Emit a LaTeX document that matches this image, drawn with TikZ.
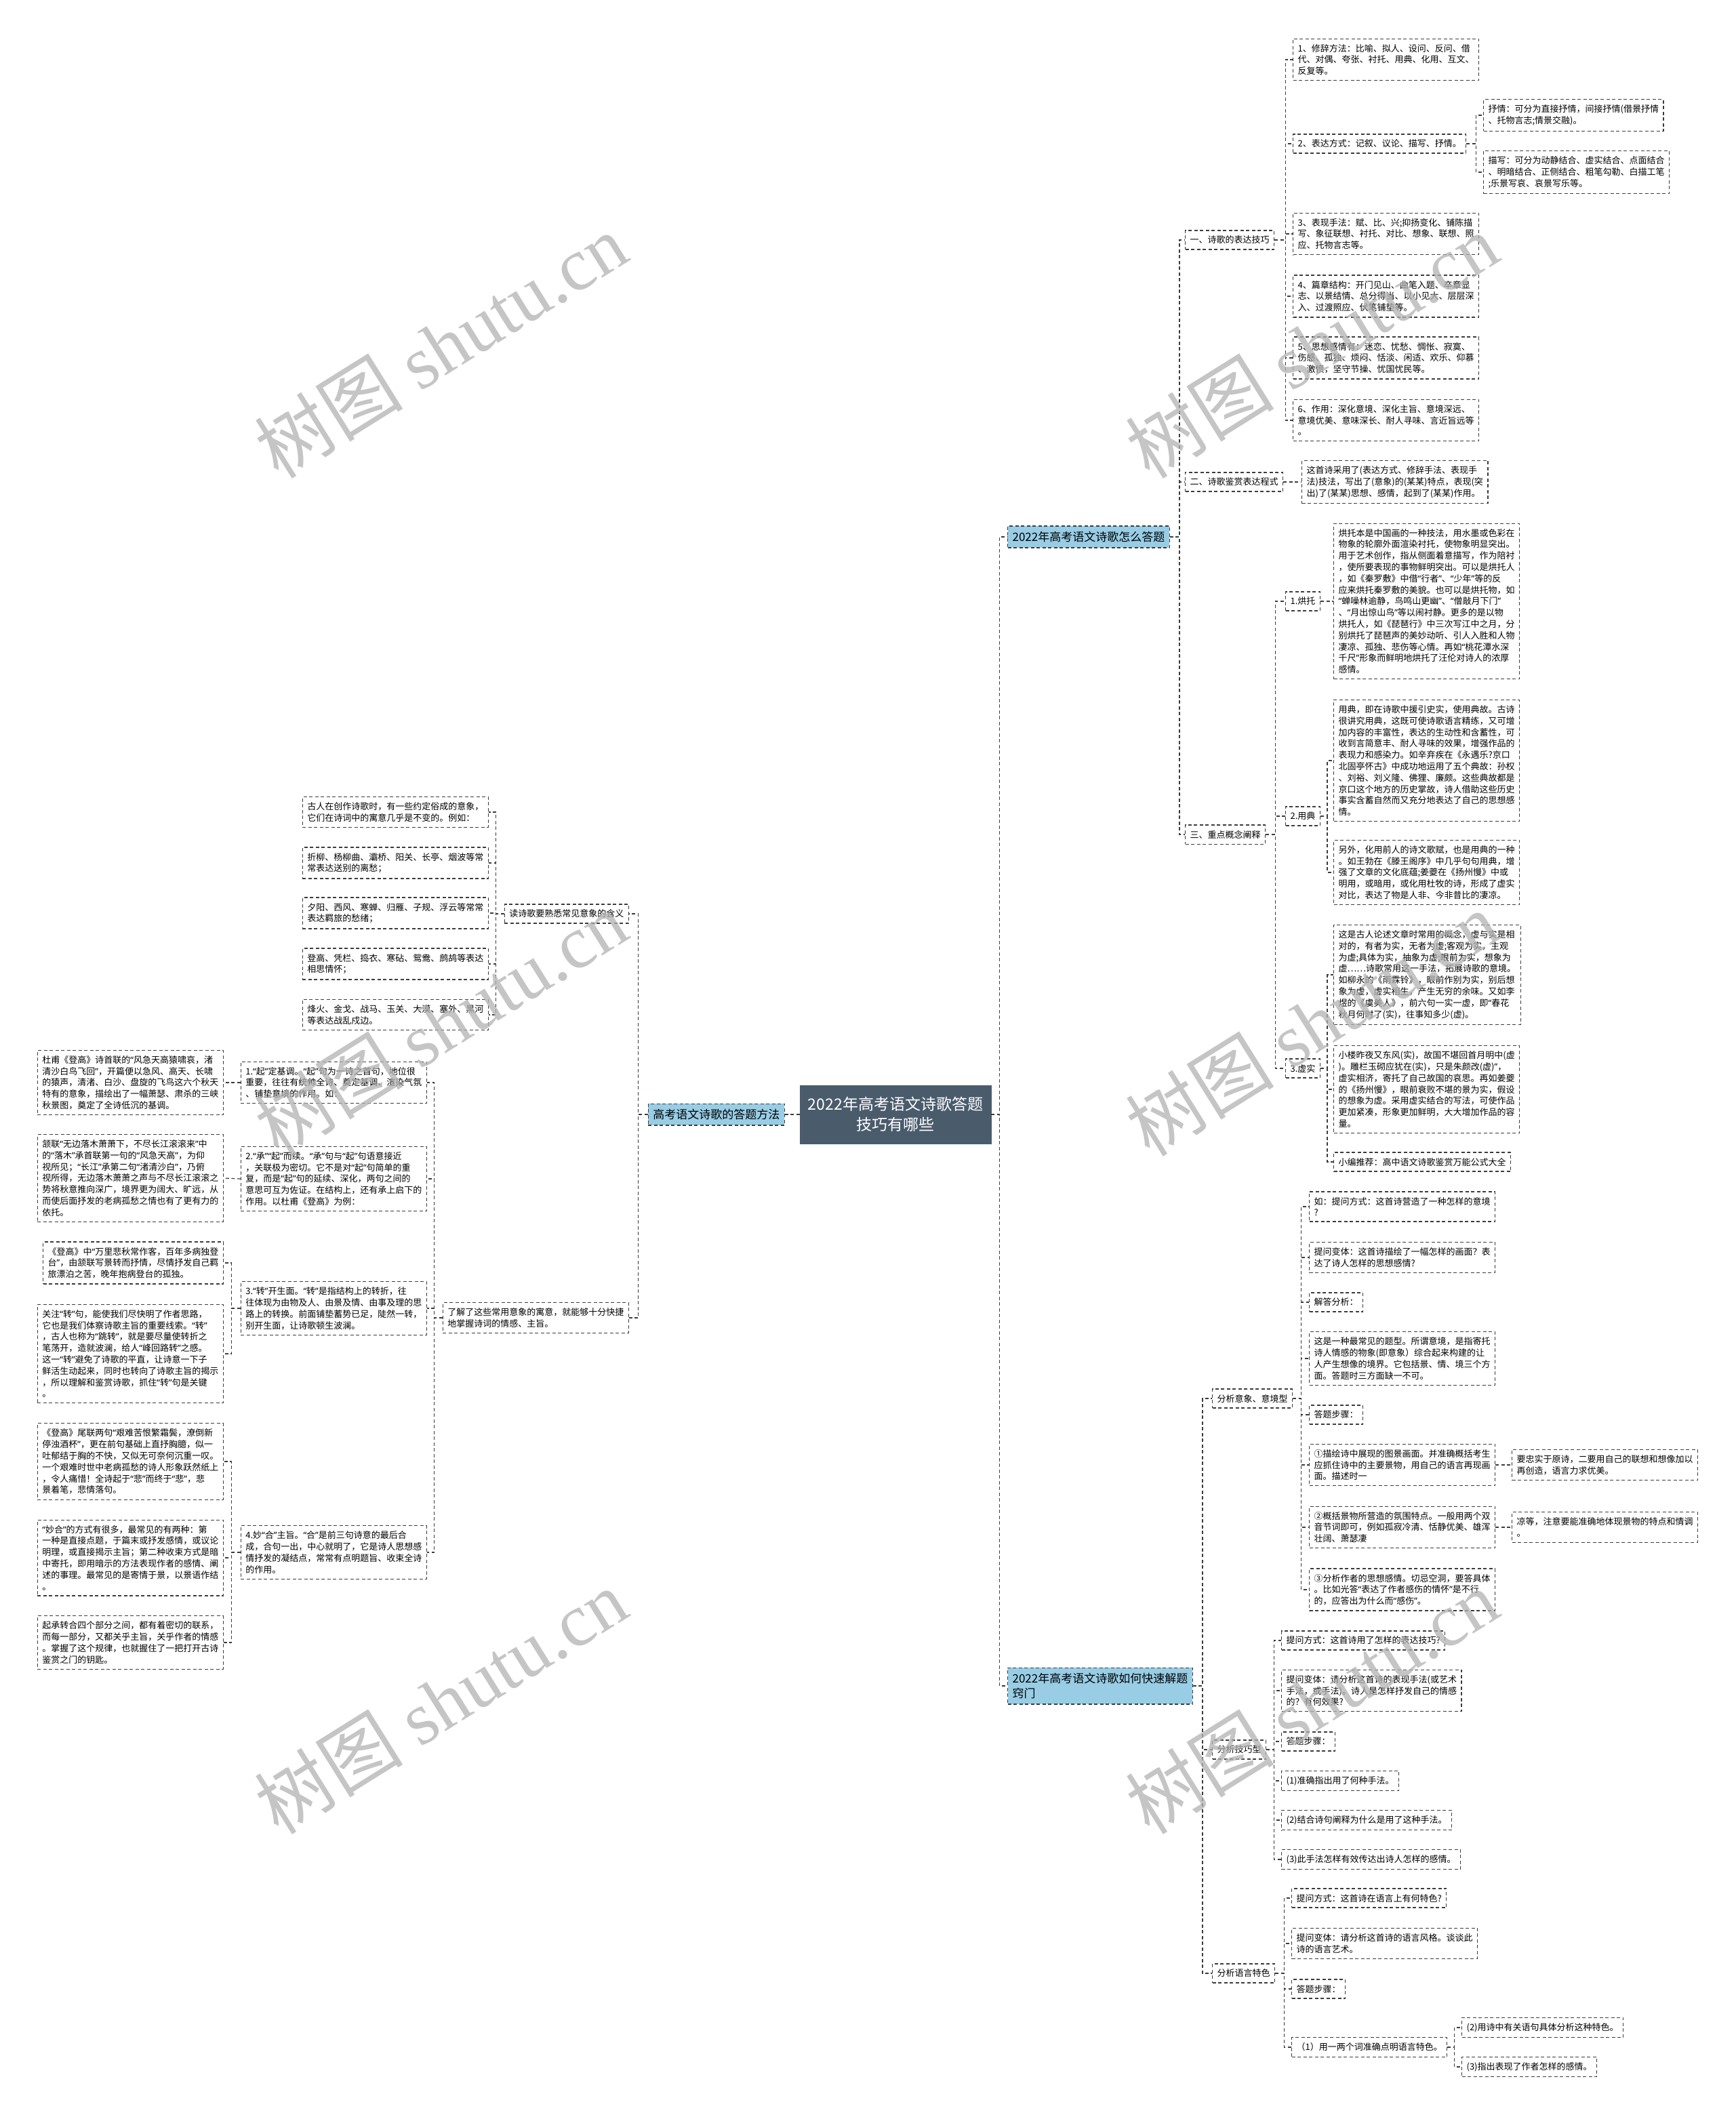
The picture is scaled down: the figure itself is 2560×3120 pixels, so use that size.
\documentclass[tikz,border=0pt]{standalone}
\usepackage{fontspec}
\setmainfont{Noto Sans CJK SC}
\newfontfamily\markfont{Liberation Serif}
\newfontfamily\quotefont{Noto Sans}
\usepackage{tikz}
\definecolor{rootslate}{RGB}{74,91,108}
\definecolor{branchblue}{RGB}{152,205,229}
\definecolor{edgegray}{RGB}{60,60,60}
\newcommand\leaffont{\fontsize{13}{16.8}\selectfont}
\newcommand\branchfont{\fontsize{17}{22}\selectfont}
\newcommand\rootfont{\fontsize{23}{30}\selectfont}
% narrow curly quotes, as the picture prints them
\catcode`“=\active \def“{{\quotefont\char"201C}}
\catcode`”=\active \def”{{\quotefont\char"201D}}
\tikzset{
  leaf/.style={rectangle, draw=edgegray, line width=1.2pt,
              dash pattern=on 5pt off 3.5pt, fill=white, align=left,
              font=\leaffont, inner xsep=7pt, inner ysep=8pt, anchor=#1},
  leaf/.default=west,
  branch/.style={leaf=#1, fill=branchblue, font=\branchfont},
  branch/.default=west,
  rootbox/.style={rectangle, draw=rootslate, fill=rootslate, text=white,
              align=center, font=\rootfont, minimum width=282pt,
              minimum height=86pt},
  link/.style={draw=edgegray, line width=1.2pt, dash pattern=on 5pt off 3.5pt},
  watermark/.style={font=\fontsize{110}{110}\selectfont, text=black!30,
              text opacity=0.75, rotate=32},
}
\begin{document}
\begin{tikzpicture}[x=1pt, y=-1pt]
  % canvas
  \fill[white] (0,0) rectangle (2560,3120);
  % root and branches
  \node[rootbox] (root) at (1321,1644) {2022年高考语文诗歌答题\\技巧有哪些};
  \node[branch] (ans) at (1486,792) {2022年高考语文诗歌怎么答题};
  \node[branch=east] (way) at (1158,1644) {高考语文诗歌的答题方法};
  \node[branch] (key) at (1486,2487) {2022年高考语文诗歌如何快速解题\\窍门};
  \draw[link] (root.west) -- (way.east);
  \foreach \b in {ans,key}
    \draw[link] (root.east) -- ++(12,0) |- (\b.west);

  % ---- right top: 怎么答题
  \node[leaf] (skill) at (1748,354) {一、诗歌的表达技巧};
  \node[leaf] (form) at (1748,711) {二、诗歌鉴赏表达程式};
  \node[leaf] (term) at (1748,1231) {三、重点概念阐释};
  \foreach \c in {skill,form,term}
    \draw[link] (ans.east) -- ++(14,0) |- (\c.west);

  \node[leaf] (sk1) at (1907,88) {1、修辞方法：比喻、拟人、设问、反问、借\\代、对偶、夸张、衬托、用典、化用、互文、\\反复等。};
  \node[leaf] (sk2) at (1907,212) {2、表达方式：记叙、议论、描写、抒情。};
  \node[leaf] (sk3) at (1907,345) {3、表现手法：赋、比、兴;抑扬变化、铺陈描\\写、象征联想、衬托、对比、想象、联想、照\\应、托物言志等。};
  \node[leaf] (sk4) at (1907,437) {4、篇章结构：开门见山、曲笔入题、卒章显\\志、以景结情、总分得当、以小见大、层层深\\入、过渡照应、伏笔铺垫等。};
  \node[leaf] (sk5) at (1907,528) {5、思想感情有：迷恋、忧愁、惆怅、寂寞、\\伤感、孤独、烦闷、恬淡、闲适、欢乐、仰慕\\、激愤，坚守节操、忧国忧民等。};
  \node[leaf] (sk6) at (1907,620) {6、作用：深化意境、深化主旨、意境深远、\\意境优美、意味深长、耐人寻味、言近旨远等\\。};
  \foreach \i in {1,...,6}
    \draw[link] (skill.east) -- ++(16,0) |- (sk\i.west);
  \node[leaf] (sk2a) at (2188,170) {抒情：可分为直接抒情，间接抒情(借景抒情\\、托物言志;情景交融)。};
  \node[leaf] (sk2b) at (2188,254) {描写：可分为动静结合、虚实结合、点面结合\\、明暗结合、正侧结合、粗笔勾勒、白描工笔\\;乐景写哀、哀景写乐等。};
  \foreach \c in {sk2a,sk2b}
    \draw[link] (sk2.east) -- ++(14,0) |- (\c.west);

  \node[leaf] (formtxt) at (1920,711) {这首诗采用了(表达方式、修辞手法、表现手\\法)技法，写出了(意象)的(某某)特点，表现(突\\出)了(某某)思想、感情，起到了(某某)作用。};
  \draw[link] (form.east) -- (formtxt.west);

  \node[leaf] (hong) at (1896,887) {1.烘托};
  \node[leaf] (dian) at (1896,1204) {2.用典};
  \node[leaf] (xu) at (1896,1576) {3.虚实};
  \foreach \c in {hong,dian,xu}
    \draw[link] (term.east) -- ++(14,0) |- (\c.west);
  \node[leaf] (hongtxt) at (1967,887) {烘托本是中国画的一种技法，用水墨或色彩在\\物象的轮廓外面渲染衬托，使物象明显突出。\\用于艺术创作，指从侧面着意描写，作为陪衬\\，使所要表现的事物鲜明突出。可以是烘托人\\，如《秦罗敷》中借“行者”、“少年”等的反\\应来烘托秦罗敷的美貌。也可以是烘托物，如\\“蝉噪林逾静，鸟鸣山更幽”、“僧敲月下门”\\、“月出惊山鸟”等以闹衬静。更多的是以物\\烘托人，如《琵琶行》中三次写江中之月，分\\别烘托了琵琶声的美妙动听、引人入胜和人物\\凄凉、孤独、悲伤等心情。再如“桃花潭水深\\千尺”形象而鲜明地烘托了汪伦对诗人的浓厚\\感情。};
  \draw[link] (hong.east) -- (hongtxt.west);
  \node[leaf] (dian1) at (1967,1122) {用典，即在诗歌中援引史实，使用典故。古诗\\很讲究用典，这既可使诗歌语言精练，又可增\\加内容的丰富性，表达的生动性和含蓄性，可\\收到言简意丰、耐人寻味的效果，增强作品的\\表现力和感染力。如辛弃疾在《永遇乐?京口\\北固亭怀古》中成功地运用了五个典故：孙权\\、刘裕、刘义隆、佛狸、廉颇。这些典故都是\\京口这个地方的历史掌故，诗人借助这些历史\\事实含蓄自然而又充分地表达了自己的思想感\\情。};
  \node[leaf] (dian2) at (1967,1287) {另外，化用前人的诗文歌赋，也是用典的一种\\。如王勃在《滕王阁序》中几乎句句用典，增\\强了文章的文化底蕴;姜夔在《扬州慢》中或\\明用，或暗用，或化用杜牧的诗，形成了虚实\\对比，表达了物是人非、今非昔比的凄凉。};
  \foreach \c in {dian1,dian2}
    \draw[link] (dian.east) -- ++(10,0) |- (\c.west);
  \node[leaf] (xu1) at (1967,1438) {这是古人论述文章时常用的概念，虚与实是相\\对的，有者为实，无者为虚;客观为实，主观\\为虚;具体为实，抽象为虚;眼前为实，想象为\\虚……诗歌常用这一手法，拓展诗歌的意境。\\如柳永的《雨霖铃》，眼前作别为实，别后想\\象为虚，虚实相生，产生无穷的余味。又如李\\煜的《虞美人》，前六句一实一虚，即“春花\\秋月何时了(实)，往事知多少(虚)。};
  \node[leaf] (xu2) at (1967,1607) {小楼昨夜又东风(实)，故国不堪回首月明中(虚\\)。雕栏玉砌应犹在(实)，只是朱颜改(虚)”，\\虚实相济，寄托了自己故国的哀思。再如姜夔\\的《扬州慢》，眼前衰败不堪的景为实，假设\\的想象为虚。采用虚实结合的写法，可使作品\\更加紧凑，形象更加鲜明，大大增加作品的容\\量。};
  \node[leaf] (xu3) at (1967,1714) {小编推荐：高中语文诗歌鉴赏万能公式大全};
  \foreach \c in {xu1,xu2,xu3}
    \draw[link] (xu.east) -- ++(10,0) |- (\c.west);

  % ---- right bottom: 快速解题窍门
  \node[leaf] (img) at (1788,2063) {分析意象、意境型};
  \node[leaf] (tech) at (1788,2581) {分析技巧型};
  \node[leaf] (lang) at (1788,2911) {分析语言特色};
  \foreach \c in {img,tech,lang}
    \draw[link] (key.east) -- ++(14,0) |- (\c.west);

  \node[leaf] (img1) at (1931,1780) {如：提问方式：这首诗营造了一种怎样的意境\\?};
  \node[leaf] (img2) at (1931,1855) {提问变体：这首诗描绘了一幅怎样的画面？表\\达了诗人怎样的思想感情?};
  \node[leaf] (img3) at (1931,1921) {解答分析：};
  \node[leaf] (img4) at (1931,2004) {这是一种最常见的题型。所谓意境，是指寄托\\诗人情感的物象(即意象）综合起来构建的让\\人产生想像的境界。它包括景、情、境三个方\\面。答题时三方面缺一不可。};
  \node[leaf] (img5) at (1931,2087) {答题步骤：};
  \node[leaf] (img6) at (1931,2161) {①描绘诗中展现的图景画面。并准确概括考生\\应抓住诗中的主要景物，用自己的语言再现画\\面。描述时一};
  \node[leaf] (img7) at (1931,2253) {②概括景物所营造的氛围特点。一般用两个双\\音节词即可，例如孤寂冷清、恬静优美、雄浑\\壮阔、萧瑟凄};
  \node[leaf] (img8) at (1931,2345) {③分析作者的思想感情。切忌空洞，要答具体\\。比如光答“表达了作者感伤的情怀”是不行\\的，应答出为什么而“感伤”。};
  \foreach \i in {1,...,8}
    \draw[link] (img.east) -- ++(12,0) |- (img\i.west);
  \node[leaf] (img6a) at (2230,2161) {要忠实于原诗，二要用自己的联想和想像加以\\再创造，语言力求优美。};
  \node[leaf] (img7a) at (2230,2253) {凉等，注意要能准确地体现景物的特点和情调\\。};
  \draw[link] (img6.east) -- (img6a.west);
  \draw[link] (img7.east) -- (img7a.west);

  \node[leaf] (tech1) at (1890,2420) {提问方式：这首诗用了怎样的表达技巧?};
  \node[leaf] (tech2) at (1890,2494) {提问变体：请分析这首诗的表现手法(或艺术\\手法，或手法)。诗人是怎样抒发自己的情感\\的？有何效果?};
  \node[leaf] (tech3) at (1890,2569) {答题步骤：};
  \node[leaf] (tech4) at (1890,2627) {(1)准确指出用了何种手法。};
  \node[leaf] (tech5) at (1890,2685) {(2)结合诗句阐释为什么是用了这种手法。};
  \node[leaf] (tech6) at (1890,2743) {(3)此手法怎样有效传达出诗人怎样的感情。};
  \foreach \i in {1,...,6}
    \draw[link] (tech.east) -- ++(11,0) |- (tech\i.west);

  \node[leaf] (lang1) at (1905,2800) {提问方式：这首诗在语言上有何特色?};
  \node[leaf] (lang2) at (1905,2867) {提问变体：请分析这首诗的语言风格。谈谈此\\诗的语言艺术。};
  \node[leaf] (lang3) at (1905,2934) {答题步骤：};
  \node[leaf] (lang4) at (1905,3020) {（1）用一两个词准确点明语言特色。};
  \foreach \i in {1,...,4}
    \draw[link] (lang.east) -- ++(13,0) |- (lang\i.west);
  \node[leaf] (lang4a) at (2156,2991) {(2)用诗中有关语句具体分析这种特色。};
  \node[leaf] (lang4b) at (2156,3049) {(3)指出表现了作者怎样的感情。};
  \foreach \c in {lang4a,lang4b}
    \draw[link] (lang4.east) -- ++(10,0) |- (\c.west);

  % ---- left: 答题方法
  \node[leaf=east] (read) at (928,1348) {读诗歌要熟悉常见意象的含义};
  \node[leaf=east] (know) at (928,1944) {了解了这些常用意象的寓意，就能够十分快捷\\地掌握诗词的情感、主旨。};
  \foreach \c in {read,know}
    \draw[link] (way.west) -- ++(-14,0) |- (\c.east);

  \node[leaf=east] (read1) at (721,1198) {古人在创作诗歌时，有一些约定俗成的意象，\\它们在诗词中的寓意几乎是不变的。例如：};
  \node[leaf=east] (read2) at (721,1273) {折柳、杨柳曲、灞桥、阳关、长亭、烟波等常\\常表达送别的离愁；};
  \node[leaf=east] (read3) at (721,1347) {夕阳、西风、寒蝉、归雁、子规、浮云等常常\\表达羁旅的愁绪；};
  \node[leaf=east] (read4) at (721,1422) {登高、凭栏、捣衣、寒砧、鸳鸯、鹧鸪等表达\\相思情怀；};
  \node[leaf=east] (read5) at (721,1497) {烽火、金戈、战马、玉关、大漠、塞外、黑河\\等表达战乱戍边。};
  \foreach \i in {1,...,5}
    \draw[link] (read.west) -- ++(-12,0) |- (read\i.east);

  \node[leaf=east] (qi) at (630,1597) {1.“起”定基调。“起”句为一诗之首句，地位很\\重要，往往有统帅全诗、奠定基调、渲染气氛\\、铺垫意境的作用。如：};
  \node[leaf=east] (cheng) at (630,1739) {2.“承”“起”而续。“承”句与“起”句语意接近\\，关联极为密切。它不是对“起”句简单的重\\复，而是“起”句的延续、深化，两句之间的\\意思可互为佐证。在结构上，还有承上启下的\\作用。以杜甫《登高》为例：};
  \node[leaf=east] (zhuan) at (630,1930) {3.“转”开生面。“转”是指结构上的转折，往\\往体现为由物及人、由景及情、由事及理的思\\路上的转换。前面铺垫蓄势已足，陡然一转，\\别开生面，让诗歌顿生波澜。};
  \node[leaf=east] (he) at (630,2290) {4.妙“合”主旨。“合”是前三句诗意的最后合\\成，合句一出，中心就明了，它是诗人思想感\\情抒发的凝结点，常常有点明题旨、收束全诗\\的作用。};
  \foreach \c in {qi,cheng,zhuan,he}
    \draw[link] (know.west) -- ++(-12,0) |- (\c.east);

  \node[leaf=east] (qitxt) at (330,1597) {杜甫《登高》诗首联的“风急天高猿啸哀，渚\\清沙白鸟飞回”，开篇便以急风、高天、长啸\\的猿声，清渚、白沙、盘旋的飞鸟这六个秋天\\特有的意象，描绘出了一幅萧瑟、肃杀的三峡\\秋景图，奠定了全诗低沉的基调。};
  \draw[link] (qi.west) -- (qitxt.east);
  \node[leaf=east] (chengtxt) at (330,1738) {颔联“无边落木萧萧下，不尽长江滚滚来”中\\的“落木”承首联第一句的“风急天高”，为仰\\视所见；“长江”承第二句“渚清沙白”，乃俯\\视所得，无边落木萧萧之声与不尽长江滚滚之\\势将秋意推向深广，境界更为阔大、旷远，从\\而使后面抒发的老病孤愁之情也有了更有力的\\依托。};
  \draw[link] (cheng.west) -- (chengtxt.east);
  \node[leaf=east] (zhuan1) at (330,1863) {《登高》中“万里悲秋常作客，百年多病独登\\台”，由颔联写景转而抒情，尽情抒发自己羁\\旅漂泊之苦，晚年抱病登台的孤独。};
  \node[leaf=east] (zhuan2) at (330,1997) {关注“转”句，能使我们尽快明了作者思路，\\它也是我们体察诗歌主旨的重要线索。“转”\\，古人也称为“跳转”，就是要尽量使转折之\\笔荡开，造就波澜，给人“峰回路转”之感。\\这一“转”避免了诗歌的平直，让诗意一下子\\鲜活生动起来，同时也转向了诗歌主旨的揭示\\，所以理解和鉴赏诗歌，抓住“转”句是关键\\。};
  \foreach \c in {zhuan1,zhuan2}
    \draw[link] (zhuan.west) -- ++(-13,0) |- (\c.east);
  \node[leaf=east] (he1) at (330,2156) {《登高》尾联两句“艰难苦恨繁霜鬓，潦倒新\\停浊酒杯”，更在前句基础上直抒胸臆，似一\\吐郁结于胸的不快，又似无可奈何沉重一叹。\\一个艰难时世中老病孤愁的诗人形象跃然纸上\\，令人痛惜！全诗起于“悲”而终于“悲”，悲\\景着笔，悲情落句。};
  \node[leaf=east] (he2) at (330,2298) {“妙合”的方式有很多，最常见的有两种：第\\一种是直接点题，于篇末或抒发感情，或议论\\明理，或直接揭示主旨；第二种收束方式是暗\\中寄托，即用暗示的方法表现作者的感情、阐\\述的事理。最常见的是寄情于景，以景语作结\\。};
  \node[leaf=east] (he3) at (330,2423) {起承转合四个部分之间，都有着密切的联系，\\而每一部分，又都关乎主旨，关乎作者的情感\\。掌握了这个规律，也就握住了一把打开古诗\\鉴赏之门的钥匙。};
  \foreach \c in {he1,he2,he3}
    \draw[link] (he.west) -- ++(-13,0) |- (\c.east);

  % watermark
  \foreach \wx/\wy [count=\k] in {650/510, 1935/510, 650/1510, 1935/1510, 650/2510, 1935/2510}
    \node[watermark] (mark\k) at (\wx,\wy) {树图 {\markfont shutu.cn}};
\end{tikzpicture}
\end{document}
